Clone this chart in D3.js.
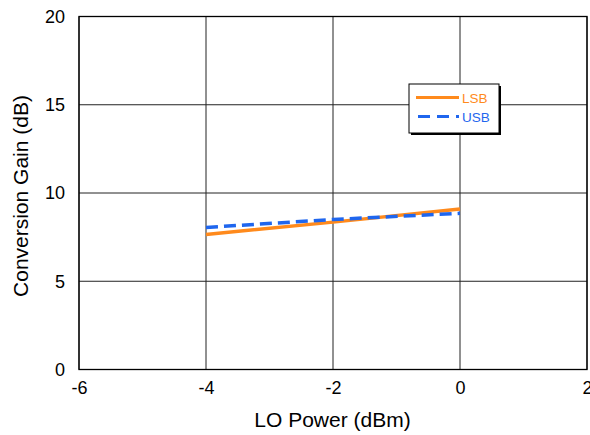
<!DOCTYPE html>
<html>
<head>
<meta charset="utf-8">
<script src="https://cdn.jsdelivr.net/npm/d3@7"></script>
<style>
  body { margin: 0; background: #fff; }
  text { font-family: "Liberation Sans", Arial, sans-serif; }
</style>
</head>
<body>
<script>
const w = 590;
const h = 435;

// data
const loPower = [-4, -2, 0];
const lsb = [7.65, 8.35, 9.1];
const usb = [8.05, 8.5, 8.85];
const xTicks = [-6, -4, -2, 0, 2];
const yTicks = [0, 5, 10, 15, 20];
const seriesNames = ["LSB", "USB"];
const seriesColors = ["#ff8a1c", "#1f66ee"];

const plotLeft = 79, plotRight = 587, plotTop = 16.5, plotBottom = 369.5;

const svg = d3.select("body").append("svg")
  .attr("width", w)
  .attr("height", h);

const xScale = d3.scaleLinear().domain([-6, 2]).range([plotLeft, plotRight]);
const yScale = d3.scaleLinear().domain([0, 20]).range([plotBottom, plotTop]);

// grid
svg.append("g")
  .selectAll("line")
  .data(xTicks)
  .enter()
  .append("line")
  .attr("x1", d => xScale(d)).attr("x2", d => xScale(d))
  .attr("y1", plotTop).attr("y2", plotBottom)
  .attr("stroke", "#222")
  .attr("stroke-width", 1);

svg.append("g")
  .selectAll("line")
  .data(yTicks)
  .enter()
  .append("line")
  .attr("x1", plotLeft).attr("x2", plotRight)
  .attr("y1", d => yScale(d)).attr("y2", d => yScale(d))
  .attr("stroke", "#222")
  .attr("stroke-width", 1);

// frame
svg.append("rect")
  .attr("x", plotLeft).attr("y", plotTop)
  .attr("width", plotRight - plotLeft).attr("height", plotBottom - plotTop)
  .attr("fill", "none")
  .attr("stroke", "#000")
  .attr("stroke-width", 1.3);

// x axis (plain hyphen for negatives)
const xAxis = d3.axisBottom(xScale).tickValues(xTicks).tickSize(0).tickPadding(12)
  .tickFormat(d => String(d));
svg.append("g")
  .attr("transform", "translate(0," + plotBottom + ")")
  .call(xAxis)
  .call(g => g.select(".domain").remove())
  .selectAll("text")
  .style("font-size", "18px")
  .attr("fill", "#000");

// y axis
const yAxis = d3.axisLeft(yScale).tickValues(yTicks).tickSize(0).tickPadding(14);
svg.append("g")
  .attr("transform", "translate(" + plotLeft + ",0)")
  .call(yAxis)
  .call(g => g.select(".domain").remove())
  .selectAll("text")
  .style("font-size", "18px")
  .attr("fill", "#000");

// axis labels
svg.append("text")
  .attr("x", 332.5)
  .attr("y", 427)
  .attr("text-anchor", "middle")
  .style("font-size", "21px")
  .text("LO Power (dBm)");

svg.append("text")
  .attr("transform", "translate(28,196) rotate(-90)")
  .attr("text-anchor", "middle")
  .style("font-size", "21px")
  .text("Conversion Gain (dB)");

// lines
const line = d3.line()
  .x((d, i) => xScale(loPower[i]))
  .y(d => yScale(d));

svg.append("path")
  .datum(lsb)
  .attr("d", line)
  .attr("fill", "none")
  .attr("stroke", seriesColors[0])
  .attr("stroke-width", 3.5);

svg.append("path")
  .datum(usb)
  .attr("d", line)
  .attr("fill", "none")
  .attr("stroke", seriesColors[1])
  .attr("stroke-width", 3.5)
  .attr("stroke-dasharray", "12,6");

// legend
const legend = svg.append("g").attr("transform", "translate(409,84)");
legend.append("rect")
  .attr("x", 2).attr("y", 2)
  .attr("width", 90).attr("height", 49)
  .attr("fill", "#000");
legend.append("rect")
  .attr("x", 0).attr("y", 0)
  .attr("width", 90).attr("height", 49)
  .attr("fill", "#fff")
  .attr("stroke", "#000")
  .attr("stroke-width", 1);

legend.selectAll("line")
  .data(seriesNames)
  .enter()
  .append("line")
  .attr("x1", 7).attr("x2", 50)
  .attr("y1", (d, i) => 13.5 + i * 19)
  .attr("y2", (d, i) => 13.5 + i * 19)
  .attr("stroke", (d, i) => seriesColors[i])
  .attr("stroke-width", 3)
  .attr("stroke-dasharray", (d, i) => i ? "12,7" : null)
  .attr("stroke-dashoffset", (d, i) => i ? -2 : 0);

legend.selectAll("text")
  .data(seriesNames)
  .enter()
  .append("text")
  .attr("x", 53)
  .attr("y", (d, i) => 18.5 + i * 19)
  .style("font-size", "13.5px")
  .attr("fill", (d, i) => seriesColors[i])
  .text(d => d);
</script>
</body>
</html>
